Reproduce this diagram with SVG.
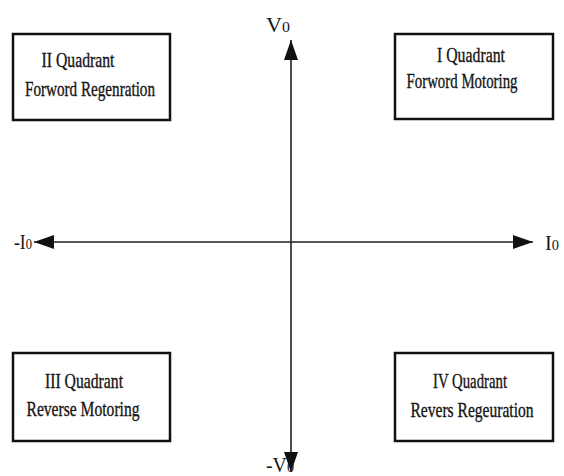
<svg xmlns="http://www.w3.org/2000/svg" width="564" height="476" viewBox="0 0 564 476">
<style>
.box{fill:#fff;stroke:#111;stroke-width:2.5}
.t{font-family:"Liberation Serif","Times New Roman",serif;font-size:21px;fill:#151515;stroke:#151515;stroke-width:0.35;text-anchor:middle}
.lab{font-family:"Liberation Serif","Times New Roman",serif;font-size:21px;fill:#151515}
.axis{stroke:#222;stroke-width:1.6;fill:none}
</style>
<defs>
<marker id="ah" markerUnits="userSpaceOnUse" markerWidth="22" markerHeight="14" refX="20" refY="7" orient="auto">
<path d="M0,0 L20,7 L0,14 Z" fill="#111"/>
</marker>
</defs>
<rect width="564" height="476" fill="#fff"/>
<g id="connectors">
<line class="axis" x1="291" y1="242" x2="291" y2="40" marker-end="url(#ah)"/>
<line class="axis" x1="291" y1="242" x2="291" y2="472" marker-end="url(#ah)"/>
<line class="axis" x1="291" y1="242" x2="533" y2="242" marker-end="url(#ah)"/>
<line class="axis" x1="291" y1="242" x2="34" y2="242" marker-end="url(#ah)"/>
</g>
<g id="q2">
<rect class="box" x="13" y="34" width="157" height="86"/>
<text class="t" x="78" y="67" textLength="73" lengthAdjust="spacingAndGlyphs">II Quadrant</text>
<text class="t" x="90" y="96" textLength="130" lengthAdjust="spacingAndGlyphs">Forword Regenration</text>
</g>
<g id="q1">
<rect class="box" x="395" y="34" width="158" height="85"/>
<text class="t" x="471" y="62" textLength="68" lengthAdjust="spacingAndGlyphs">I Quadrant</text>
<text class="t" x="462" y="88" textLength="111" lengthAdjust="spacingAndGlyphs">Forword Motoring</text>
</g>
<g id="q3">
<rect class="box" x="13" y="353" width="157" height="88"/>
<text class="t" x="84" y="388" textLength="78" lengthAdjust="spacingAndGlyphs">III Quadrant</text>
<text class="t" x="83" y="416" textLength="113" lengthAdjust="spacingAndGlyphs">Reverse Motoring</text>
</g>
<g id="q4">
<rect class="box" x="395" y="353" width="158" height="88"/>
<text class="t" x="470" y="388" textLength="74" lengthAdjust="spacingAndGlyphs">IV Quadrant</text>
<text class="t" x="472" y="417" textLength="123" lengthAdjust="spacingAndGlyphs">Revers Regeuration</text>
</g>
<g id="labels">
<text class="lab" x="266" y="32" textLength="24" lengthAdjust="spacingAndGlyphs">V<tspan font-size="15">0</tspan></text>
<text class="lab" x="266" y="472" textLength="28" lengthAdjust="spacingAndGlyphs">-V<tspan font-size="15">0</tspan></text>
<text class="lab" x="14" y="249" textLength="18" lengthAdjust="spacingAndGlyphs">-I<tspan font-size="15">0</tspan></text>
<text class="lab" x="545" y="250" textLength="14" lengthAdjust="spacingAndGlyphs">I<tspan font-size="15">0</tspan></text>
</g>
</svg>
